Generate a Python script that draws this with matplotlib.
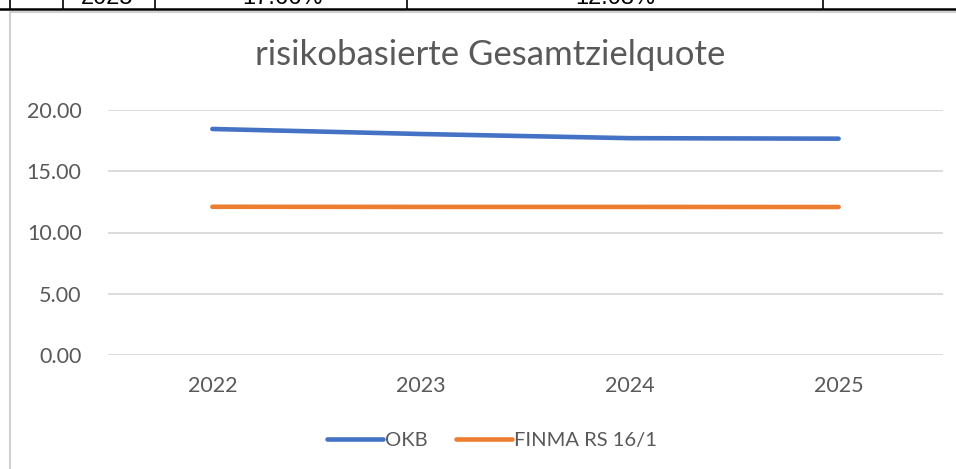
import matplotlib.pyplot as plt
from matplotlib.lines import Line2D

# data
years = ['2022', '2023', '2024', '2025']
okb = [18.45, 18.04, 17.70, 17.66]
finma = [12.10, 12.09, 12.09, 12.08]
yticks = [0, 5, 10, 15, 20]

# table row cut off at the top of the screenshot
table_cells = ['2025', '17.66%', '12.08%']
table_cells_x = [107, 282, 615]
table_borders_x = [10, 63, 155, 407, 823]

plt.rcParams['font.family'] = ['Lato', 'DejaVu Sans']
grey = '#595959'

fig = plt.figure(figsize=(9.56, 4.69), dpi=100)
W, H = 956, 469

def fx(px):
    return px / W

def fy(py):
    return 1 - py / H

# remains of the table above the chart
fig.add_artist(Line2D([0, 1], [fy(9.5), fy(9.5)], color='black', lw=1.8))
for bx in table_borders_x:
    fig.add_artist(Line2D([fx(bx), fx(bx)], [fy(-2), fy(9.5)], color='black', lw=1.2))
for txt, cx in zip(table_cells, table_cells_x):
    fig.text(fx(cx), fy(4), txt, ha='center', va='baseline', fontsize=17,
             family='Liberation Sans', color='black')
fig.add_artist(plt.Circle((fx(35), fy(-3)), 0.005, color='#00b050',
                          transform=fig.transFigure))

# chart area border
fig.add_artist(Line2D([fx(10), fx(10)], [fy(12), 0], color='#d0d0d0', lw=1.5))
fig.add_artist(Line2D([fx(10), 1], [fy(12), fy(12)], color='#d0d0d0', lw=1.5))

ax = fig.add_axes([fx(108), fy(355), fx(835), (355 - 110) / H])
x = [i + 0.5 for i in range(len(years))]
ax.plot(x, okb, color='#4472c4', lw=3.3, solid_capstyle='round', label='OKB')
ax.plot(x, finma, color='#ed7d31', lw=3.3, solid_capstyle='round', label='FINMA RS 16/1')

ax.set_xlim(0, len(years))
ax.set_ylim(0, 20)
ax.set_xticks(x)
ax.set_xticklabels(years)
ax.set_yticks(yticks)
ax.set_yticklabels([f'{v:.2f}' for v in yticks])
ax.tick_params(length=0, labelsize=15.5, colors=grey)
ax.tick_params(axis='y', pad=19)
ax.tick_params(axis='x', pad=15)
ax.grid(axis='y', color='#d9d9d9', lw=1.3)
ax.set_axisbelow(True)
for s in ax.spines.values():
    s.set_visible(False)

fig.text(fx(490), fy(55), 'risikobasierte Gesamtzielquote', ha='center', va='center',
         fontsize=25, color=grey)

fig.legend(loc='center', bbox_to_anchor=(fx(492), fy(440)), ncol=2, frameon=False,
           fontsize=14.5, labelcolor=grey, handlelength=2.8, handletextpad=0.1,
           columnspacing=1.4)

fig.savefig('out.png', dpi=100)
